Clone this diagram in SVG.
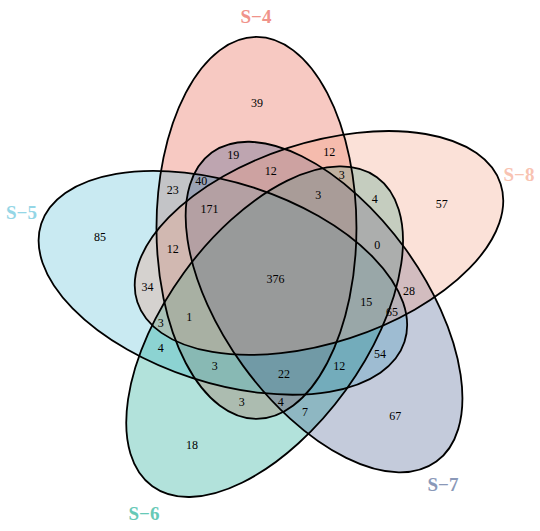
<svg xmlns="http://www.w3.org/2000/svg" width="540" height="531" viewBox="0 0 540 531">
<style>
.fill{stroke:none;fill-opacity:0.3}
.edge{fill:none;stroke:#000;stroke-width:1.8}
.cat{font-family:"Liberation Serif","Times New Roman",serif;font-weight:bold;font-size:19px;text-anchor:middle}
.num{font-family:"Liberation Serif","Times New Roman",serif;font-size:12px;text-anchor:middle;fill:#000}
</style>
<defs>
<ellipse id="e4" cx="0" cy="0" rx="100" ry="191" transform="translate(256.47,227.96) rotate(0)"/>
<ellipse id="e5" cx="0" cy="0" rx="100" ry="191" transform="translate(222.87,282.79) rotate(288)"/>
<ellipse id="e6" cx="0" cy="0" rx="100" ry="191" transform="translate(264.63,331.69) rotate(216)"/>
<ellipse id="e7" cx="0" cy="0" rx="100" ry="191" transform="translate(324.04,307.08) rotate(144)"/>
<ellipse id="e8" cx="0" cy="0" rx="100" ry="191" transform="translate(318.99,242.98) rotate(72)"/>
</defs>
<rect width="540" height="531" fill="#fff"/>
<g id="S-4"><use href="#e4" class="fill" fill="#E64B35"/><text class="cat" x="256" y="23" fill="#F0938A">S−4</text></g>
<g id="S-5"><use href="#e5" class="fill" fill="#4DBBD5"/><text class="cat" x="21.5" y="219" fill="#94D6E6">S−5</text></g>
<g id="S-6"><use href="#e6" class="fill" fill="#00A087"/><text class="cat" x="144" y="520" fill="#66C9B7">S−6</text></g>
<g id="S-7"><use href="#e7" class="fill" fill="#3C5488"/><text class="cat" x="443" y="491" fill="#8A98B8">S−7</text></g>
<g id="S-8"><use href="#e8" class="fill" fill="#F39B7F"/><text class="cat" x="519" y="181" fill="#F8C3B2">S−8</text></g>
<g id="outlines">
<use href="#e4" class="edge"/><use href="#e5" class="edge"/><use href="#e6" class="edge"/><use href="#e7" class="edge"/><use href="#e8" class="edge"/>
</g>
<g id="connectors"/>
<g id="counts" class="num">
<text x="257" y="107">39</text>
<text x="233.3" y="159.2">19</text>
<text x="329.3" y="155.9">12</text>
<text x="201.3" y="184.9">40</text>
<text x="270.7" y="174.9">12</text>
<text x="341.7" y="178.8">3</text>
<text x="172.7" y="193.8">23</text>
<text x="374.7" y="202.5">4</text>
<text x="318.3" y="198.8">3</text>
<text x="441.7" y="208.2">57</text>
<text x="209.6" y="212.7">171</text>
<text x="172.7" y="252.7">12</text>
<text x="377.3" y="249.2">0</text>
<text x="100" y="240.9">85</text>
<text x="275.5" y="283.2">376</text>
<text x="147.5" y="291.2">34</text>
<text x="409" y="294.9">28</text>
<text x="366.3" y="305.9">15</text>
<text x="392" y="315.9">65</text>
<text x="189.3" y="320.9">1</text>
<text x="160.7" y="326.9">3</text>
<text x="160.7" y="351.9">4</text>
<text x="380" y="358.2">54</text>
<text x="214.7" y="369.9">3</text>
<text x="339.3" y="369.9">12</text>
<text x="284" y="377.5">22</text>
<text x="241.7" y="405.9">3</text>
<text x="280.7" y="405.9">4</text>
<text x="305" y="415.9">7</text>
<text x="395.3" y="419.9">67</text>
<text x="192" y="449.2">18</text>
</g>
</svg>
